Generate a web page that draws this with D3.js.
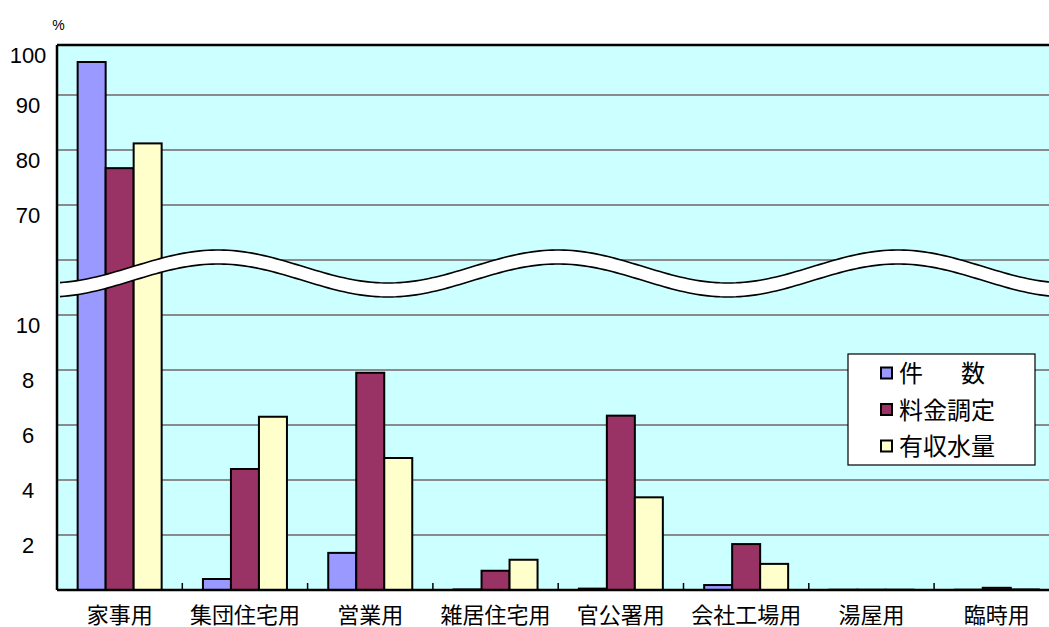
<!DOCTYPE html>
<html>
<head>
<meta charset="utf-8">
<script src="https://cdn.jsdelivr.net/npm/d3@7"></script>
<style>
  body { margin: 0; background: #fff; }
  svg { display: block; }
  text { font-family: "Liberation Sans", "Noto Sans CJK JP", sans-serif; fill: #000; }
</style>
</head>
<body>
<div id="chart"></div>
<script>
// categories and series (percent)
const categories = ['家事用', '集団住宅用', '営業用', '雑居住宅用', '官公署用', '会社工場用', '湯屋用', '臨時用'];
const seriesNames = ['件　　数', '料金調定', '有収水量'];
const kensu = [96.0, 0.4, 1.35, 0.02, 0.05, 0.18, 0.01, 0.01];
const ryokin = [76.7, 4.4, 7.9, 0.7, 6.34, 1.67, 0.01, 0.08];
const yushu = [81.2, 6.3, 4.8, 1.1, 3.37, 0.95, 0.01, 0.02];
const gridValues = [2, 4, 6, 8, 10, 60, 70, 80, 90];
const tickLabels = [2, 4, 6, 8, 10, 70, 80, 90, 100];

class BrokenBarChart {
    constructor(_config, _data) {
        this.config = {
            parentElement: _config.parentElement,
            containerWidth: _config.containerWidth || 1049,
            containerHeight: _config.containerHeight || 627,
            colors: _config.colors
        }
        this.data = _data;
        this.initVis();
    }

    initVis() {
        let vis = this;

        vis.svg = d3.select(vis.config.parentElement).append('svg')
            .attr('width', vis.config.containerWidth)
            .attr('height', vis.config.containerHeight);

        vis.left = 57;
        vis.top = 45;
        vis.bottom = 590;
        vis.bandW = 125.3;
        vis.right = vis.left + vis.bandW * categories.length;

        // piecewise scale: 0-10 stretched, 10-60 squeezed into the break, 60-100 normal
        vis.y = d3.scaleLinear()
            .domain([0, 10, 60, 100])
            .range([vis.bottom, 315, 260, 40]);

        vis.x0 = d3.scaleBand()
            .domain(categories)
            .range([vis.left, vis.right])
            .paddingInner(0)
            .paddingOuter(0);

        vis.x1 = d3.scaleBand()
            .domain(seriesNames)
            .range([0, 84])
            .padding(0);

        vis.renderVis();
    }

    renderVis() {
        let vis = this;
        const plotW = vis.right - vis.left;

        vis.svg.append('rect')
            .attr('x', vis.left).attr('y', vis.top)
            .attr('width', plotW).attr('height', vis.bottom - vis.top)
            .attr('fill', '#ccffff');

        // gridlines
        vis.svg.selectAll('.grid')
            .data(gridValues)
            .enter().append('line')
            .attr('class', 'grid')
            .attr('x1', vis.left).attr('x2', vis.right)
            .attr('y1', d => vis.y(d)).attr('y2', d => vis.y(d))
            .attr('stroke', '#8a8a8a')
            .attr('stroke-width', 2);

        // bars
        const groups = vis.svg.selectAll('.group')
            .data(categories)
            .enter().append('g')
            .attr('class', 'group')
            .attr('transform', d => `translate(${vis.x0(d) + (vis.bandW - 84) / 2},0)`);

        groups.selectAll('rect')
            .data((d, i) => vis.data.map((s, j) => ({ name: seriesNames[j], value: s[i], color: vis.config.colors[j] })))
            .enter().append('rect')
            .attr('x', d => vis.x1(d.name))
            .attr('width', vis.x1.bandwidth())
            .attr('y', d => vis.y(d.value))
            .attr('height', d => vis.bottom - vis.y(d.value))
            .attr('fill', d => d.color)
            .attr('stroke', '#000')
            .attr('stroke-width', 2);

        // wavy break band
        const waveY = x => 266.5 - 16.5 * Math.cos(2 * Math.PI * (x - 218) / 340);
        const xs = d3.range(60, vis.config.containerWidth + 12, 4);
        const thick = 14;
        vis.svg.append('path')
            .datum(xs)
            .attr('d', d3.area().x(d => d).y0(d => waveY(d)).y1(d => waveY(d) + thick))
            .attr('fill', '#fff');
        [0, thick].forEach(off => {
            vis.svg.append('path')
                .datum(xs)
                .attr('d', d3.line().x(d => d).y(d => waveY(d) + off))
                .attr('fill', 'none')
                .attr('stroke', '#000')
                .attr('stroke-width', 1.6);
        });

        // frame: top, left, bottom
        vis.svg.append('line')
            .attr('x1', vis.left).attr('x2', vis.right)
            .attr('y1', vis.top).attr('y2', vis.top)
            .attr('stroke', '#000').attr('stroke-width', 2.5);
        vis.svg.append('line')
            .attr('x1', vis.left).attr('x2', vis.left)
            .attr('y1', vis.top).attr('y2', vis.bottom)
            .attr('stroke', '#000').attr('stroke-width', 2.5);
        vis.svg.append('line')
            .attr('x1', vis.left).attr('x2', vis.right)
            .attr('y1', vis.bottom).attr('y2', vis.bottom)
            .attr('stroke', '#000').attr('stroke-width', 2.5);

        // category ticks (inside)
        vis.svg.selectAll('.xtick')
            .data(d3.range(1, categories.length))
            .enter().append('line')
            .attr('class', 'xtick')
            .attr('x1', d => vis.left + d * vis.bandW).attr('x2', d => vis.left + d * vis.bandW)
            .attr('y1', vis.bottom - 7).attr('y2', vis.bottom)
            .attr('stroke', '#000').attr('stroke-width', 1.5);

        // y labels (sit a little below their gridlines, like the original)
        vis.svg.selectAll('.ylab')
            .data(tickLabels)
            .enter().append('text')
            .attr('class', 'ylab')
            .attr('x', 28)
            .attr('y', d => Math.max(vis.y(d), vis.top) + 18)
            .attr('text-anchor', 'middle')
            .style('font-size', '22px')
            .text(d => d);

        vis.svg.append('text')
            .attr('x', 58.5).attr('y', 30)
            .attr('text-anchor', 'middle')
            .style('font-size', '14px')
            .text('%');

        // category labels
        vis.svg.selectAll('.xlab')
            .data(categories)
            .enter().append('text')
            .attr('class', 'xlab')
            .attr('x', d => vis.x0(d) + vis.bandW / 2)
            .attr('y', 623)
            .attr('text-anchor', 'middle')
            .style('font-size', '22px')
            .text(d => d);

        // legend
        const lg = vis.svg.append('g').attr('transform', 'translate(848,354)');
        lg.append('rect')
            .attr('width', 187).attr('height', 111)
            .attr('fill', '#fff').attr('stroke', '#000').attr('stroke-width', 1.2);
        const items = lg.selectAll('.item')
            .data(seriesNames)
            .enter().append('g')
            .attr('transform', (d, i) => `translate(0,${19 + i * 36.5})`);
        items.append('rect')
            .attr('x', 33).attr('y', -5.5)
            .attr('width', 11).attr('height', 11)
            .attr('fill', (d, i) => vis.config.colors[i])
            .attr('stroke', '#000').attr('stroke-width', 2);
        items.append('text')
            .attr('x', 51).attr('y', 9)
            .style('font-size', '24px')
            .attr('textLength', (d, i) => i === 0 ? 86 : null)
            .attr('lengthAdjust', 'spacing')
            .text(d => d);
    }
}

new BrokenBarChart({
    parentElement: '#chart',
    colors: ['#9999ff', '#993366', '#ffffcc']
}, [kensu, ryokin, yushu]);
</script>
</body>
</html>
